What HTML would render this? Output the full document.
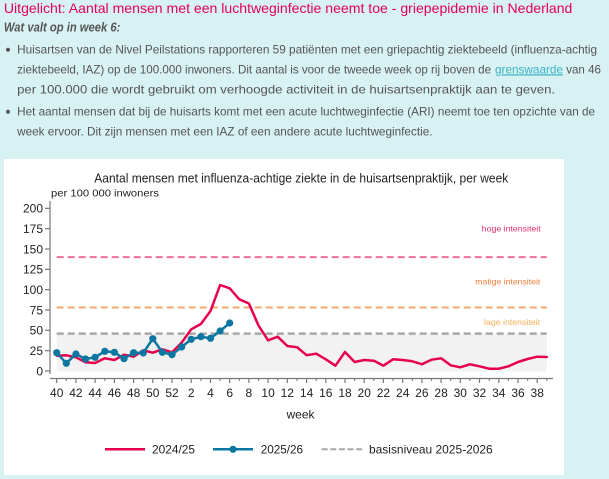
<!DOCTYPE html>
<html>
<head>
<meta charset="utf-8">
<style>
  html,body{margin:0;padding:0;background:#d8f1f3;}
  body{width:609px;height:479px;overflow:hidden;}
  svg{display:block;}
  text{font-family:"Liberation Sans",Arial,sans-serif;}
</style>
</head>
<body>
<svg width="609" height="479" viewBox="0 0 609 479" xmlns="http://www.w3.org/2000/svg">
  <rect x="0" y="0" width="609" height="479" fill="#d8f1f3"/>

  <!-- Header text -->
  <text x="3.9" y="13" font-size="14" fill="#e4005a" textLength="568.5" lengthAdjust="spacingAndGlyphs">Uitgelicht: Aantal mensen met een luchtweginfectie neemt toe - griepepidemie in Nederland</text>
  <text x="3.9" y="31.5" font-size="12.5" font-weight="bold" font-style="italic" fill="#555" textLength="116.5" lengthAdjust="spacingAndGlyphs">Wat valt op in week 6:</text>

  <circle cx="8" cy="49.8" r="2" fill="#555"/>
  <text x="17.1" y="53.3" font-size="12" fill="#555" textLength="580" lengthAdjust="spacingAndGlyphs">Huisartsen van de Nivel Peilstations rapporteren 59 patiënten met een griepachtig ziektebeeld (influenza-achtig</text>
  <text x="17.1" y="73.3" font-size="12" fill="#555" textLength="474" lengthAdjust="spacingAndGlyphs">ziektebeeld, IAZ) op de 100.000 inwoners. Dit aantal is voor de tweede week op rij boven de</text>
  <text x="495" y="73.3" font-size="12" fill="#3ab4c4" text-decoration="underline" textLength="68" lengthAdjust="spacingAndGlyphs">grenswaarde</text>
  <text x="566.2" y="73.3" font-size="12" fill="#555" textLength="34.8" lengthAdjust="spacingAndGlyphs">van 46</text>
  <text x="17.1" y="93.3" font-size="12" fill="#555" textLength="538" lengthAdjust="spacingAndGlyphs">per 100.000 die wordt gebruikt om verhoogde activiteit in de huisartsenpraktijk aan te geven.</text>

  <circle cx="8" cy="111.8" r="2" fill="#555"/>
  <text x="17.1" y="115.3" font-size="12" fill="#555" textLength="578" lengthAdjust="spacingAndGlyphs">Het aantal mensen dat bij de huisarts komt met een acute luchtweginfectie (ARI) neemt toe ten opzichte van de</text>
  <text x="17.1" y="135.3" font-size="12" fill="#555" textLength="415.4" lengthAdjust="spacingAndGlyphs">week ervoor. Dit zijn mensen met een IAZ of een andere acute luchtweginfectie.</text>

  <!-- White chart box -->
  <rect x="4" y="159" width="560" height="316" fill="#ffffff"/>

  <!-- Chart title -->
  <text x="94.3" y="182.3" font-size="12.5" fill="#222" textLength="414" lengthAdjust="spacingAndGlyphs">Aantal mensen met influenza-achtige ziekte in de huisartsenpraktijk, per week</text>
  <text x="51" y="196.7" font-size="10.5" fill="#222" textLength="108" lengthAdjust="spacingAndGlyphs">per 100 000 inwoners</text>

  <!-- basis area -->
  <rect x="56.7" y="333.6" width="490.1" height="38" fill="#f2f2f2"/>

  <!-- threshold lines -->
  <line x1="56.7" y1="257.1" x2="546.8" y2="257.1" stroke="#ef6f9a" stroke-width="2" stroke-dasharray="7,4"/>
  <line x1="56.7" y1="307.5" x2="546.8" y2="307.5" stroke="#f6a56e" stroke-width="2" stroke-dasharray="7,4"/>
  <line x1="56.7" y1="333.6" x2="546.8" y2="333.6" stroke="#a8a8a8" stroke-width="2.5" stroke-dasharray="7,4"/>

  <text x="540.7" y="231.7" font-size="8.5" fill="#e6336b" text-anchor="end" textLength="59" lengthAdjust="spacingAndGlyphs">hoge intensiteit</text>
  <text x="540.3" y="284.3" font-size="8.5" fill="#f07d3c" text-anchor="end" textLength="65" lengthAdjust="spacingAndGlyphs">matige intensiteit</text>
  <text x="540" y="325" font-size="8.5" fill="#f6ae55" text-anchor="end" textLength="56" lengthAdjust="spacingAndGlyphs">lage intensiteit</text>

  <!-- Y axis -->
  <g stroke="#777" stroke-width="1.2">
    <line x1="50" y1="201" x2="50" y2="374"/>
    <line x1="45" y1="371" x2="50" y2="371"/>
    <line x1="45" y1="350.67" x2="50" y2="350.67"/>
    <line x1="45" y1="330.33" x2="50" y2="330.33"/>
    <line x1="45" y1="310" x2="50" y2="310"/>
    <line x1="45" y1="289.67" x2="50" y2="289.67"/>
    <line x1="45" y1="269.33" x2="50" y2="269.33"/>
    <line x1="45" y1="249" x2="50" y2="249"/>
    <line x1="45" y1="228.67" x2="50" y2="228.67"/>
    <line x1="45" y1="208.33" x2="50" y2="208.33"/>
  </g>
  <g font-size="12" fill="#222" text-anchor="end">
    <text x="43" y="375.3">0</text>
    <text x="43" y="355">25</text>
    <text x="43" y="334.6">50</text>
    <text x="43" y="314.3">75</text>
    <text x="43" y="294">100</text>
    <text x="43" y="273.6">125</text>
    <text x="43" y="253.3">150</text>
    <text x="43" y="233">175</text>
    <text x="43" y="212.6">200</text>
  </g>

  <!-- X axis -->
  <g stroke="#777" stroke-width="1.2">
    <line x1="50" y1="378.5" x2="553" y2="378.5"/>
    <path d="M56.7 378.5v4.5 M66.3 378.5v2.2 M75.9 378.5v4.5 M85.5 378.5v2.2 M95.1 378.5v4.5 M104.8 378.5v2.2 M114.4 378.5v4.5 M124 378.5v2.2 M133.6 378.5v4.5 M143.2 378.5v2.2 M152.8 378.5v4.5 M162.4 378.5v2.2 M172 378.5v4.5 M181.6 378.5v2.2 M191.2 378.5v4.5 M200.9 378.5v2.2 M210.5 378.5v4.5 M220.1 378.5v2.2 M229.7 378.5v4.5 M239.3 378.5v2.2 M248.9 378.5v4.5 M258.5 378.5v2.2 M268.1 378.5v4.5 M277.7 378.5v2.2 M287.3 378.5v4.5 M297 378.5v2.2 M306.6 378.5v4.5 M316.2 378.5v2.2 M325.8 378.5v4.5 M335.4 378.5v2.2 M345 378.5v4.5 M354.6 378.5v2.2 M364.2 378.5v4.5 M373.8 378.5v2.2 M383.4 378.5v4.5 M393 378.5v2.2 M402.7 378.5v4.5 M412.3 378.5v2.2 M421.9 378.5v4.5 M431.5 378.5v2.2 M441.1 378.5v4.5 M450.7 378.5v2.2 M460.3 378.5v4.5 M469.9 378.5v2.2 M479.5 378.5v4.5 M489.2 378.5v2.2 M498.8 378.5v4.5 M508.4 378.5v2.2 M518 378.5v4.5 M527.6 378.5v2.2 M537.2 378.5v4.5 M546.8 378.5v2.2" fill="none"/>
  </g>
  <g font-size="12" fill="#222" text-anchor="middle">
    <text x="56.7" y="397">40</text>
    <text x="75.9" y="397">42</text>
    <text x="95.1" y="397">44</text>
    <text x="114.4" y="397">46</text>
    <text x="133.6" y="397">48</text>
    <text x="152.8" y="397">50</text>
    <text x="172" y="397">52</text>
    <text x="191.2" y="397">2</text>
    <text x="210.5" y="397">4</text>
    <text x="229.7" y="397">6</text>
    <text x="248.9" y="397">8</text>
    <text x="268.1" y="397">10</text>
    <text x="287.3" y="397">12</text>
    <text x="306.6" y="397">14</text>
    <text x="325.8" y="397">16</text>
    <text x="345" y="397">18</text>
    <text x="364.2" y="397">20</text>
    <text x="383.4" y="397">22</text>
    <text x="402.7" y="397">24</text>
    <text x="421.9" y="397">26</text>
    <text x="441.1" y="397">28</text>
    <text x="460.3" y="397">30</text>
    <text x="479.5" y="397">32</text>
    <text x="498.8" y="397">34</text>
    <text x="518" y="397">36</text>
    <text x="537.2" y="397">38</text>
  </g>
  <text x="300.5" y="418.5" font-size="12" fill="#222" text-anchor="middle">week</text>

  <!-- Series 2024/25 -->
  <polyline fill="none" stroke="#e6004c" stroke-width="2.5" stroke-linejoin="round" stroke-linecap="round"
    points="56.7,355.7 66.3,355.3 75.9,357.3 85.5,362.3 95.1,363 104.8,358.3 114.4,360 124,354.7 133.6,356.7 143.2,350.3 152.8,352.7 162.4,349.3 172,352.3 181.6,342.7 191.2,329.3 200.9,324 210.5,311 220.1,285 229.7,288.3 239.3,299.3 248.9,303.5 258.5,325.5 268.1,340.3 277.7,336.7 287.3,346 297,347.2 306.6,355.2 316.2,353.7 325.8,359.3 335.4,365.7 345,352 354.6,362 364.2,360 373.8,360.7 383.4,365.7 393,359.3 402.7,360 412.3,361.3 421.9,364.2 431.5,359.7 441.1,358.3 450.7,365.3 460.3,367.3 469.9,364.3 479.5,366.3 489.2,368.7 498.8,368.7 508.4,366.3 518,362 527.6,359 537.2,356.7 546.8,357"/>

  <!-- Series 2025/26 -->
  <polyline fill="none" stroke="#0b77a0" stroke-width="2.5" stroke-linejoin="round"
    points="56.7,352.7 66.3,363.3 75.9,354 85.5,359 95.1,357.3 104.8,351.3 114.4,352.3 124,358.7 133.6,352.7 143.2,353 152.8,338.7 162.4,352.3 172,354.7 181.6,347 191.2,339.3 200.9,336.7 210.5,338.3 220.1,331 229.7,323"/>
  <g fill="#0b77a0">
    <circle cx="56.7" cy="352.7" r="3.6"/>
    <circle cx="66.3" cy="363.3" r="3.6"/>
    <circle cx="75.9" cy="354" r="3.6"/>
    <circle cx="85.5" cy="359" r="3.6"/>
    <circle cx="95.1" cy="357.3" r="3.6"/>
    <circle cx="104.8" cy="351.3" r="3.6"/>
    <circle cx="114.4" cy="352.3" r="3.6"/>
    <circle cx="124" cy="358.7" r="3.6"/>
    <circle cx="133.6" cy="352.7" r="3.6"/>
    <circle cx="143.2" cy="353" r="3.6"/>
    <circle cx="152.8" cy="338.7" r="3.6"/>
    <circle cx="162.4" cy="352.3" r="3.6"/>
    <circle cx="172" cy="354.7" r="3.6"/>
    <circle cx="181.6" cy="347" r="3.6"/>
    <circle cx="191.2" cy="339.3" r="3.6"/>
    <circle cx="200.9" cy="336.7" r="3.6"/>
    <circle cx="210.5" cy="338.3" r="3.6"/>
    <circle cx="220.1" cy="331" r="3.6"/>
    <circle cx="229.7" cy="323" r="3.6"/>
  </g>

  <!-- Legend -->
  <line x1="105" y1="449.3" x2="145" y2="449.3" stroke="#e6004c" stroke-width="2.5"/>
  <text x="152" y="453.6" font-size="12" fill="#222" textLength="43" lengthAdjust="spacingAndGlyphs">2024/25</text>
  <line x1="213" y1="449.3" x2="253" y2="449.3" stroke="#0b77a0" stroke-width="2.5"/>
  <circle cx="233" cy="449.3" r="3.6" fill="#0b77a0"/>
  <text x="260.7" y="453.6" font-size="12" fill="#222" textLength="42.3" lengthAdjust="spacingAndGlyphs">2025/26</text>
  <line x1="321.7" y1="449.3" x2="362" y2="449.3" stroke="#a8a8a8" stroke-width="2" stroke-dasharray="6,2.6"/>
  <text x="369" y="453.6" font-size="12" fill="#222" textLength="123.7" lengthAdjust="spacingAndGlyphs">basisniveau 2025-2026</text>
</svg>
</body>
</html>
